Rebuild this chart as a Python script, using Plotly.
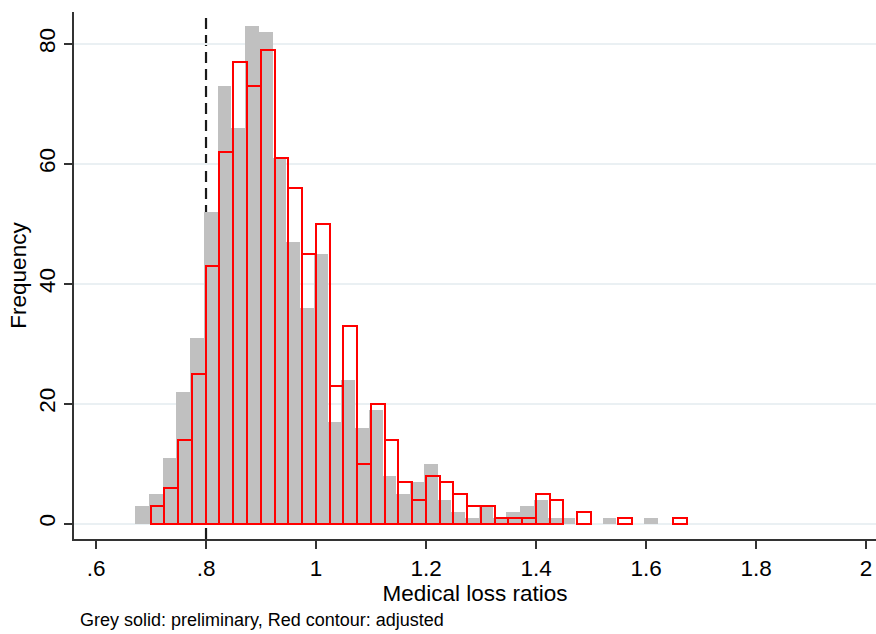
import plotly.graph_objects as go

# ---- data ----
bin_width = 0.025
grey_start = 0.671
red_start = 0.6995
grey_counts = [3, 5, 11, 22, 31, 52, 73, 66, 83, 82, 61, 47, 36, 45, 17, 24, 16, 19, 8, 5,
               7, 10, 4, 2, 1, 3, 1, 2, 3, 4, 1, 1, 0, 0, 1, 0, 0, 1]
red_counts = [3, 6, 14, 25, 43, 62, 77, 73, 79, 61, 56, 45, 50, 23, 33, 10, 20, 14, 7, 4,
              8, 7, 5, 3, 3, 1, 1, 1, 5, 4, 0, 2, 0, 0, 1, 0, 0, 0, 1]
x_tickvals = [0.6, 0.8, 1.0, 1.2, 1.4, 1.6, 1.8, 2.0]
x_ticktext = [".6", ".8", "1", "1.2", "1.4", "1.6", "1.8", "2"]
y_tickvals = [0, 20, 40, 60, 80]
y_ticktext = ["0", "20", "40", "60", "80"]
ref_line = 0.8
note = "Grey solid: preliminary, Red contour: adjusted"

grey_x = [grey_start + (i + 0.5) * bin_width for i in range(len(grey_counts))]
red_x = [red_start + (i + 0.5) * bin_width for i in range(len(red_counts))]
grey_y = [c if c > 0 else None for c in grey_counts]
red_y = [c if c > 0 else None for c in red_counts]

FONT = "Liberation Sans, Arial, Helvetica, sans-serif"
W, H = 876, 634
ML, MR, MT, MB = 74, 0, 12, 95
FS = 22.5

fig = go.Figure()
fig.add_trace(go.Bar(x=grey_x, y=grey_y, width=bin_width,
                     marker=dict(color="#C0C0C0", line=dict(width=0)),
                     hoverinfo="x+y", showlegend=False))
fig.add_trace(go.Bar(x=red_x, y=red_y, width=bin_width,
                     marker=dict(color="rgba(0,0,0,0)", line=dict(color="#FF0000", width=2)),
                     hoverinfo="x+y", showlegend=False))

fig.add_shape(type="line", xref="x", yref="paper", x0=ref_line, x1=ref_line, y0=0, y1=1.0,
              line=dict(color="#1a1a1a", width=2.2, dash="11px,6px"), layer="below")

fig.update_layout(
    width=W, height=H,
    margin=dict(l=ML, r=MR, t=MT, b=MB, pad=0),
    paper_bgcolor="white", plot_bgcolor="white",
    barmode="overlay", bargap=0,
    font=dict(family=FONT, size=FS, color="black"),
    showlegend=False,
    xaxis=dict(range=[0.56, 2.018], tickvals=x_tickvals, ticktext=x_ticktext,
               showgrid=False, zeroline=False, showline=True, linecolor="#333333", linewidth=1.5,
               ticks="outside", ticklen=8, tickwidth=1.5, tickcolor="#333333",
               tickfont=dict(size=FS),
               title=dict(text="Medical loss ratios", font=dict(size=FS), standoff=2)),
    yaxis=dict(range=[-2.55, 85.3], tickvals=y_tickvals, ticktext=y_ticktext, tickangle=-90,
               showgrid=True, gridcolor="#EAF0F3", gridwidth=1.5, zeroline=False,
               showline=True, linecolor="#333333", linewidth=1.5,
               ticks="outside", ticklen=8, tickwidth=1.5, tickcolor="#333333",
               tickfont=dict(size=FS),
               title=dict(text="Frequency", font=dict(size=FS), standoff=2)),
)

fig.add_annotation(text=note, xref="paper", yref="paper",
                   x=(78 - ML) / (W - ML - MR), y=(H - MB - 620) / (H - MT - MB),
                   xanchor="left", yanchor="middle", showarrow=False,
                   font=dict(size=18, color="black", family=FONT))

fig.write_html("out.html")
